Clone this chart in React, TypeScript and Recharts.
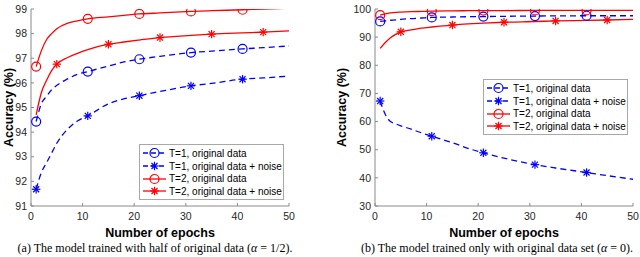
import { LineChart, Line, XAxis, YAxis, Legend } from 'recharts';

// epochs where the curves were sampled off the figure
const epochs = [1, 2, 3, 4, 5, 7, 9, 11, 15, 18, 21, 25, 31, 35, 41, 45, 50];
const xTicks = [0, 10, 20, 30, 40, 50];

// (a) trained with half of original data
const halfT1 = [94.43, 95.15, 95.45, 95.72, 95.9, 96.15, 96.35, 96.46, 96.68, 96.85, 96.96, 97.08, 97.23, 97.29, 97.38, 97.43, 97.5];
const halfT1Noise = [91.68, 92.35, 92.75, 93.15, 93.55, 94.1, 94.45, 94.66, 95.15, 95.35, 95.48, 95.65, 95.88, 95.98, 96.15, 96.2, 96.28];
const halfT2 = [96.66, 97.3, 97.75, 98.0, 98.2, 98.42, 98.52, 98.6, 98.68, 98.74, 98.8, 98.84, 98.9, 98.93, 98.97, 99.0, 99.03];
const halfT2Noise = [94.7, 95.6, 96.1, 96.5, 96.76, 97.02, 97.2, 97.35, 97.57, 97.66, 97.74, 97.84, 97.93, 97.98, 98.03, 98.06, 98.11];
const halfTicks = [91, 92, 93, 94, 95, 96, 97, 98, 99];

// (b) trained only with original data set
const origT1 = [95.6, 95.8, 96.0, 96.1, 96.3, 96.6, 96.8, 97.0, 97.15, 97.25, 97.3, 97.4, 97.5, 97.55, 97.6, 97.6, 97.6];
const origT1Noise = [67.3, 62.5, 60.0, 59.2, 58.5, 57.3, 56.0, 54.8, 52.5, 50.5, 48.9, 47.0, 44.7, 43.5, 41.9, 40.8, 39.5];
const origT2 = [97.8, 98.3, 98.6, 98.8, 98.9, 99.05, 99.15, 99.25, 99.35, 99.4, 99.45, 99.45, 99.5, 99.5, 99.5, 99.5, 99.5];
const origT2Noise = [86.0, 88.1, 89.8, 91.0, 91.9, 92.6, 93.2, 93.6, 94.3, 94.7, 95.0, 95.3, 95.55, 95.75, 95.95, 96.1, 96.3];
const origTicks = [30, 40, 50, 60, 70, 80, 90, 100];

// epochs that carry a marker
const marksT1 = [1, 11, 21, 31, 41];
const marksT2Noise = [5, 15, 25, 35, 45];

const BLUE = '#0000ff';
const RED = '#ff0000';
const AXIS = '#8a8a8a';
const FONT = '"Liberation Sans", Arial, Helvetica, sans-serif';

const series = [
  { key: 's1', name: 'T=1, original data', color: BLUE, dashed: true, shape: 'circle', marks: marksT1 },
  { key: 's2', name: 'T=1, original data + noise', color: BLUE, dashed: true, shape: 'star', marks: marksT1 },
  { key: 's3', name: 'T=2, original data', color: RED, dashed: false, shape: 'circle', marks: marksT1 },
  { key: 's4', name: 'T=2, original data + noise', color: RED, dashed: false, shape: 'star', marks: marksT2Noise },
];

const toRows = (a: number[], b: number[], c: number[], d: number[]) =>
  epochs.map((epoch, i) => ({ epoch, s1: a[i], s2: b[i], s3: c[i], s4: d[i] }));

const halfData = toRows(halfT1, halfT1Noise, halfT2, halfT2Noise);
const origData = toRows(origT1, origT1Noise, origT2, origT2Noise);

function Marker({ shape, cx, cy, color }: any) {
  if (shape === 'circle') {
    return <circle cx={cx} cy={cy} r={4.5} fill="none" stroke={color} strokeWidth={1.2} />;
  }
  const r = 4.2;
  const d = r * 0.72;
  return (
    <g stroke={color} strokeWidth={1.2}>
      <line x1={cx - r} y1={cy} x2={cx + r} y2={cy} />
      <line x1={cx} y1={cy - r} x2={cx} y2={cy + r} />
      <line x1={cx - d} y1={cy - d} x2={cx + d} y2={cy + d} />
      <line x1={cx - d} y1={cy + d} x2={cx + d} y2={cy - d} />
    </g>
  );
}

function LegendBox() {
  return (
    <div
      style={{
        background: '#fff',
        border: '1px solid #a8a8a8',
        padding: '2px 0 1px 2px',
        fontFamily: FONT,
        fontSize: 10,
        color: '#000',
      }}
    >
      {series.map((s) => (
        <div key={s.key} style={{ display: 'flex', alignItems: 'center', height: 12.7, whiteSpace: 'nowrap' }}>
          <svg width={25} height={12} style={{ flex: 'none' }}>
            <line x1={1} y1={6} x2={24} y2={6} stroke={s.color} strokeWidth={1.3} strokeDasharray={s.dashed ? '5 3' : undefined} />
            <Marker shape={s.shape} cx={12.5} cy={6} color={s.color} />
          </svg>
          <span style={{ marginLeft: 2 }}>{s.name}</span>
        </div>
      ))}
    </div>
  );
}

function YTitle({ viewBox, cx }: any) {
  const cy = viewBox.y + viewBox.height / 2;
  return (
    <text
      x={cx}
      y={cy}
      transform={`rotate(-90, ${cx}, ${cy})`}
      textAnchor="middle"
      dominantBaseline="central"
      fontFamily={FONT}
      fontSize={12.5}
      fontWeight="bold"
      fill="#000"
    >
      Accuracy (%)
    </text>
  );
}

function XTitle({ viewBox }: any) {
  return (
    <text
      x={viewBox.x + viewBox.width / 2}
      y={237}
      textAnchor="middle"
      fontFamily={FONT}
      fontSize={12.5}
      fontWeight="bold"
      fill="#000"
    >
      Number of epochs
    </text>
  );
}

function Panel({ data, domain, ticks, yWidth, margin, titleX, legendPos }: any) {
  const tickStyle = { fontFamily: FONT, fontSize: 10.5, fill: '#262626' };
  return (
    <LineChart width={320} height={257} data={data} margin={margin}>
      <XAxis
        dataKey="epoch"
        type="number"
        domain={[0, 50]}
        ticks={xTicks}
        interval={0}
        height={30}
        stroke={AXIS}
        tickSize={-3}
        tickMargin={10}
        tick={tickStyle}
        label={<XTitle />}
      />
      <XAxis xAxisId="top" orientation="top" dataKey="epoch" type="number" domain={[0, 50]} ticks={xTicks} height={0} stroke={AXIS} tickSize={-3} tick={false} />
      <YAxis
        type="number"
        domain={domain}
        ticks={ticks}
        interval={0}
        width={yWidth}
        stroke={AXIS}
        tickSize={-3}
        tickMargin={7}
        tick={tickStyle}
        allowDataOverflow
        label={<YTitle cx={titleX} />}
      />
      <YAxis yAxisId="right" orientation="right" type="number" domain={domain} ticks={ticks} width={0} stroke={AXIS} tickSize={-3} tick={false} />
      {series.map((s) => (
        <Line
          key={s.key}
          dataKey={s.key}
          name={s.name}
          type="monotone"
          stroke={s.color}
          strokeWidth={1.3}
          strokeDasharray={s.dashed ? '6 4' : undefined}
          isAnimationActive={false}
          activeDot={false}
          dot={(p: any) =>
            s.marks.includes(p.payload.epoch) ? (
              <g key={`${s.key}-${p.index}`}>
                <Marker shape={s.shape} cx={p.cx} cy={p.cy} color={s.color} />
              </g>
            ) : (
              <g key={`${s.key}-${p.index}`} />
            )
          }
        />
      ))}
      <Legend
        layout="vertical"
        align="center"
        verticalAlign="middle"
        width={145}
        wrapperStyle={{ left: legendPos.left, top: legendPos.top, width: 145 }}
        content={() => <LegendBox />}
      />
    </LineChart>
  );
}

const captionStyle: any = {
  position: 'absolute',
  top: 241,
  fontFamily: '"Liberation Serif", "Times New Roman", serif',
  fontSize: 12,
  lineHeight: '14px',
  textAlign: 'center',
  color: '#000',
  whiteSpace: 'nowrap',
};

export default function App() {
  return (
    <div style={{ position: 'absolute', left: 0, top: 0, width: 640, height: 257, background: '#fff', overflow: 'hidden' }}>
      <div style={{ position: 'absolute', left: 0, top: 0 }}>
        <Panel
          data={halfData}
          domain={[91, 99]}
          ticks={halfTicks}
          yWidth={25}
          margin={{ top: 9, right: 31, bottom: 21, left: 6 }}
          titleX={9}
          legendPos={{ left: 139, top: 144 }}
        />
      </div>
      <div style={{ position: 'absolute', left: 320, top: 0 }}>
        <Panel
          data={origData}
          domain={[30, 100]}
          ticks={origTicks}
          yWidth={30}
          margin={{ top: 9, right: 7, bottom: 21, left: 25 }}
          titleX={22}
          legendPos={{ left: 163, top: 79 }}
        />
      </div>
      <div style={{ ...captionStyle, left: 0, width: 310 }}>
        (a) The model trained with half of original data (<i>α</i> = 1/2).
      </div>
      <div style={{ ...captionStyle, left: 340, width: 314 }}>
        (b) The model trained only with original data set (<i>α</i> = 0).
      </div>
    </div>
  );
}
